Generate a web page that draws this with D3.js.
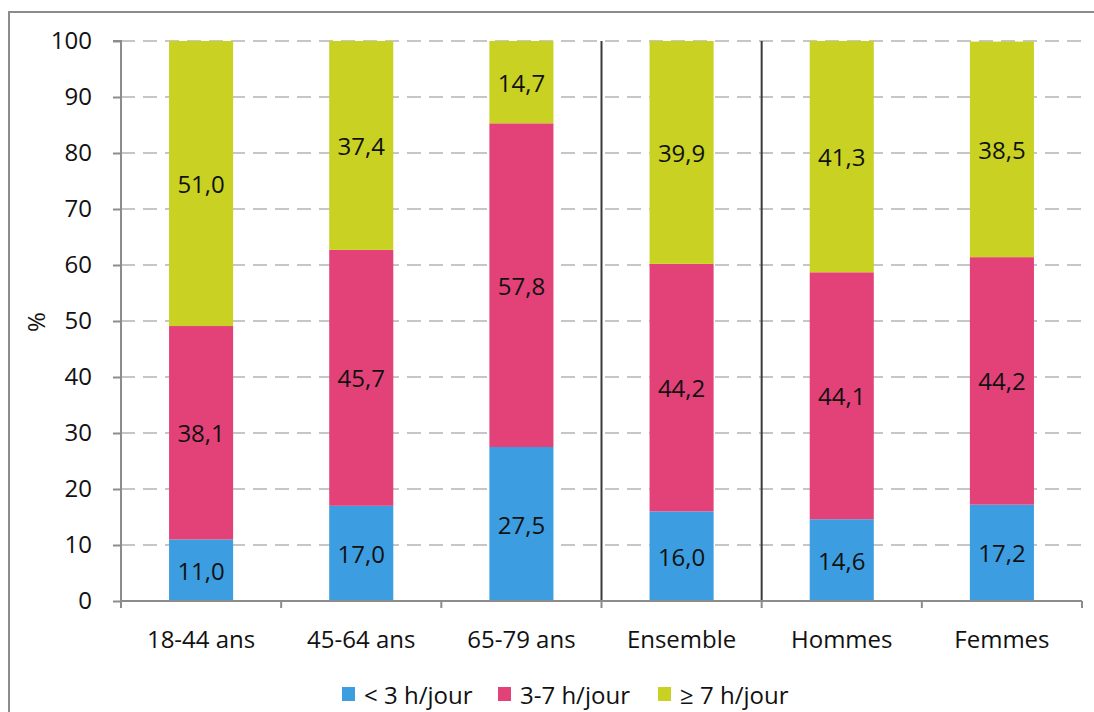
<!DOCTYPE html>
<html><head><meta charset="utf-8">
<script src="https://cdn.jsdelivr.net/npm/d3@7"></script>
<style>body{margin:0;background:#fff}text{font-family:"Open Sans",sans-serif;fill:#111}</style>
</head><body><svg id="c" width="1094" height="712"></svg>
<script>
const categories = ["18-44 ans","45-64 ans","65-79 ans","Ensemble","Hommes","Femmes"];
const seriesNames = ["< 3 h/jour","3-7 h/jour","≥ 7 h/jour"];
const low = [11.0,17.0,27.5,16.0,14.6,17.2];
const mid = [38.1,45.7,57.8,44.2,44.1,44.2];
const high = [51.0,37.4,14.7,39.9,41.3,38.5];
const yTicks = [0,10,20,30,40,50,60,70,80,90,100];
const colors = ["#3c9de0","#e24278","#c9d122"];
const separatorsAfter = ["65-79 ans","Ensemble"];

const FONT = "'Open Sans',sans-serif";
const FS = 24;
const svg = d3.select("#c");
const L=121,R=1082,T=41,B=601;
svg.append("rect").attr("x",9).attr("y",12).attr("width",1100).attr("height",720).attr("fill","none").attr("stroke","#8c8c8c").attr("stroke-width",2);

const x = d3.scaleBand().domain(categories).range([L,R]).paddingInner(0.6).paddingOuter(0.3);
const xb = d3.scaleBand().domain(categories).range([L,R]);
const y = d3.scaleLinear().domain([0,100]).range([B,T]).clamp(true);

svg.append("g").selectAll("line").data(yTicks.filter(d=>d>0)).join("line")
  .attr("x1",L).attr("x2",R).attr("y1",d=>y(d)).attr("y2",d=>y(d))
  .attr("stroke","#c6c6c6").attr("stroke-width",2).attr("stroke-dasharray","14,8");

const data = categories.map((c,i)=>({cat:c,low:low[i],mid:mid[i],high:high[i]}));
const stack = d3.stack().keys(["low","mid","high"])(data);
stack.forEach((s,si)=>{
  const g = svg.append("g");
  g.selectAll("rect").data(s).join("rect")
    .attr("x",d=>x(d.data.cat)).attr("width",x.bandwidth())
    .attr("y",d=>y(d[1])).attr("height",d=>y(d[0])-y(d[1]))
    .attr("fill",colors[si]);
  g.selectAll("text").data(s).join("text")
    .attr("x",d=>x(d.data.cat)+x.bandwidth()/2)
    .attr("y",d=>(y(d[0])+y(Math.min(d[1],100)))/2)
    .attr("text-anchor","middle").attr("dominant-baseline","central")
    .attr("font-size",FS).attr("font-weight",500)
    .text(d=>d3.format(".1f")(d[1]-d[0]).replace(".",","));
});

svg.append("g").selectAll("line").data(separatorsAfter).join("line")
  .attr("x1",d=>xb(d)+xb.bandwidth()).attr("x2",d=>xb(d)+xb.bandwidth())
  .attr("y1",T).attr("y2",B).attr("stroke","#3a3a3a").attr("stroke-width",2);

const ya = svg.append("g").attr("transform",`translate(${L},0)`)
  .call(d3.axisLeft(y).tickValues(yTicks).tickSize(8).tickPadding(21));
ya.select(".domain").attr("stroke","#8c8c8c").attr("stroke-width",2).attr("d",`M-8,${T}H0V${B}`);
ya.selectAll(".tick line").attr("stroke","#8c8c8c").attr("stroke-width",2);
ya.selectAll(".tick text").attr("font-size",FS).attr("font-family",FONT).attr("fill","#111");

const xa = svg.append("g").attr("transform",`translate(0,${B})`)
  .call(d3.axisBottom(x).tickSize(0).tickPadding(30));
xa.select(".domain").attr("stroke","#8c8c8c").attr("stroke-width",2).attr("d",`M${L},0H${R}`);
xa.selectAll(".tick text").attr("font-size",FS).attr("font-family",FONT).attr("fill","#111");
svg.append("g").selectAll("line").data(d3.range(categories.length+1)).join("line")
  .attr("x1",i=>L+i*xb.bandwidth()).attr("x2",i=>L+i*xb.bandwidth())
  .attr("y1",B).attr("y2",B+7).attr("stroke","#8c8c8c").attr("stroke-width",2);

svg.append("text").attr("transform","translate(45,322) rotate(-90)")
  .attr("text-anchor","middle").attr("font-size",FS).text("%");

const legX = [342,498,658];
const lg = svg.append("g");
seriesNames.forEach((n,i)=>{
  lg.append("rect").attr("x",legX[i]).attr("y",687).attr("width",13).attr("height",14).attr("fill",colors[i]);
  lg.append("text").attr("x",legX[i]+22).attr("y",694).attr("dominant-baseline","central").attr("font-size",FS).text(n);
});
</script></body></html>
